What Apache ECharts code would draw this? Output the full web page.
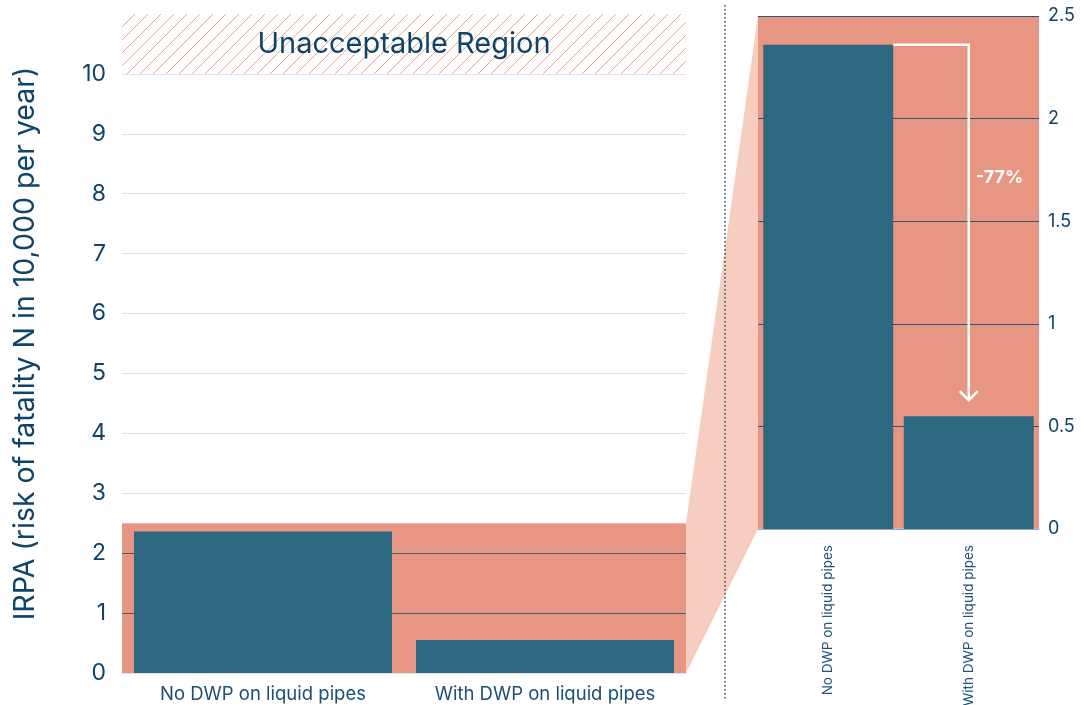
<!DOCTYPE html>
<html>
<head>
<meta charset="utf-8">
<script src="https://cdn.jsdelivr.net/npm/echarts@6/dist/echarts.min.js"></script>
<style>
  html, body { margin: 0; padding: 0; background: #ffffff; }
  #chart { width: 1084px; height: 705px; }
</style>
</head>
<body>
<div id="chart"></div>
<script>
// Individual risk per annum for the two piping cases
const categories = ['No DWP on liquid pipes', 'With DWP on liquid pipes'];
const irpa = [2.36, 0.55];

// Value ranges of the overview axis, the unacceptable band and the zoomed axis
const overviewMax = 11;
const unacceptableFrom = 10;
const zoomMax = 2.5;
const overviewInterval = 1;
const zoomInterval = 0.5;

const NAVY = '#0f4468';
const BAR = '#2c6880';
const SALMON = '#e89684';
const CONNECTOR = '#f6cdbf';
const HATCH = '#f0a28c';
const FONT = 'Inter';

// Split line colours per tick of the overview axis: dark inside the salmon band, light above
const overviewLineColors = [];
for (let v = 0; v <= overviewMax; v += overviewInterval) {
  if (v === 0 || v === overviewMax) overviewLineColors.push('rgba(0,0,0,0)');
  else if (v < zoomMax) overviewLineColors.push('#4a5a6c');
  else overviewLineColors.push('#dfe1ec');
}

const chart = echarts.init(document.getElementById('chart'), null, { renderer: 'canvas' });

chart.setOption({
  animation: false,
  backgroundColor: '#ffffff',
  textStyle: { fontFamily: FONT },
  grid: [
    { left: 122, top: 14, width: 564, bottom: 32, outerBoundsMode: 'none', containLabel: false },
    {
      left: 758, top: 16, width: 281, bottom: 176, outerBoundsMode: 'none', containLabel: false,
      show: true, backgroundColor: SALMON, borderWidth: 0
    }
  ],
  xAxis: [
    {
      type: 'category', gridIndex: 0, data: categories,
      axisLine: { show: true, lineStyle: { color: '#d9dce6', width: 1.5 } },
      axisTick: { show: false },
      axisLabel: { color: '#1d4f72', fontSize: 18.5, margin: 12, interval: 0, fontFamily: FONT }
    },
    {
      type: 'category', gridIndex: 1, data: categories,
      axisLine: { show: true, lineStyle: { color: '#b8c4d2', width: 1.5 } },
      axisTick: { show: false },
      axisLabel: { color: '#1f5678', fontSize: 13.5, margin: 16, rotate: 90, interval: 0, fontFamily: FONT }
    }
  ],
  yAxis: [
    {
      type: 'value', gridIndex: 0, min: 0, max: overviewMax, interval: overviewInterval, z: 1.5,
      name: 'IRPA (risk of fatality N in 10,000 per year)',
      nameLocation: 'middle', nameGap: 82, nameRotate: 90,
      nameTextStyle: { color: NAVY, fontSize: 28.5, fontFamily: FONT },
      axisLine: { show: false }, axisTick: { show: false },
      axisLabel: {
        color: NAVY, fontSize: 23, margin: 16, fontFamily: FONT,
        formatter: v => (v > unacceptableFrom ? '' : String(v))
      },
      splitLine: { show: true, lineStyle: { color: overviewLineColors, width: 1.2 } }
    },
    {
      type: 'value', gridIndex: 1, position: 'right', min: 0, max: zoomMax, interval: zoomInterval,
      axisLine: { show: false }, axisTick: { show: false },
      axisLabel: { color: NAVY, fontSize: 18, margin: 9, fontFamily: FONT },
      splitLine: { show: true, lineStyle: { color: '#2f5573', width: 1.2 } }
    }
  ],
  series: [
    {
      type: 'bar', xAxisIndex: 0, yAxisIndex: 0, data: irpa,
      barCategoryGap: '8.5%',
      itemStyle: { color: BAR },
      markArea: {
        silent: true,
        data: [
          [
            {
              yAxis: unacceptableFrom,
              name: 'Unacceptable Region',
              itemStyle: { color: 'rgba(0,0,0,0)' },
              label: { show: true, position: 'inside', color: NAVY, fontSize: 29, fontFamily: FONT }
            },
            { yAxis: overviewMax }
          ],
          [
            { yAxis: 0, itemStyle: { color: SALMON, opacity: 1 }, label: { show: false } },
            { yAxis: zoomMax }
          ]
        ]
      }
    },
    {
      type: 'bar', xAxisIndex: 1, yAxisIndex: 1, data: irpa,
      barCategoryGap: '7.5%',
      itemStyle: { color: BAR }
    }
  ]
});

// Diagonal hatch strokes inside a rectangle, clipped to its edges
function hatchLines(x0, y0, x1, y1, step) {
  const h = y1 - y0;
  const out = [];
  for (let s = x0 - h; s < x1; s += step) {
    // line from (s, y1) to (s + h, y0)
    let ax = s, ay = y1, bx = s + h, by = y0;
    if (ax < x0) { ay = y1 - (x0 - ax); ax = x0; }
    if (bx > x1) { by = y0 + (bx - x1); bx = x1; }
    if (bx <= ax) continue;
    out.push({
      type: 'line', z: -5, silent: true,
      shape: { x1: ax, y1: ay, x2: bx, y2: by },
      style: { stroke: HATCH, lineWidth: 1 }
    });
  }
  return out;
}

// Hatch band, connector, divider and change arrow placed from the axes' own coordinates
function drawOverlay() {
  const model = chart.getModel();
  const r0 = model.getComponent('grid', 0).coordinateSystem.getRect();
  const r1 = model.getComponent('grid', 1).coordinateSystem.getRect();
  const yL = v => chart.convertToPixel({ yAxisIndex: 0 }, v);
  const yR = v => chart.convertToPixel({ yAxisIndex: 1 }, v);
  const xR = i => chart.convertToPixel({ xAxisIndex: 1 }, i);

  const leftEdge = r0.x + r0.width;
  const rightEdge = r1.x;
  const connector = [
    [leftEdge, yL(zoomMax)],
    [rightEdge, yR(zoomMax)],
    [rightEdge, yR(0)],
    [leftEdge, yL(0)]
  ];

  const hatch = hatchLines(r0.x, yL(overviewMax), r0.x + r0.width, yL(unacceptableFrom), 13);

  const bar0 = model.getSeriesByIndex(1).getData().getItemLayout(0);
  const startX = bar0.x + bar0.width;
  const startY = yR(irpa[0]);
  const arrowX = xR(1);
  const endY = yR(irpa[1]) - 16;
  const change = Math.round((irpa[1] - irpa[0]) / irpa[0] * 100);
  const labelY = startY + (endY - startY) * 0.375;

  chart.setOption({
    graphic: hatch.concat([
      { type: 'polygon', z: -10, silent: true, shape: { points: connector }, style: { fill: CONNECTOR } },
      {
        type: 'line', z: 10, silent: true,
        shape: { x1: 725, y1: 5, x2: 725, y2: 700 },
        style: { stroke: '#1f4c6e', lineWidth: 1.5, lineDash: [1.5, 2.5] }
      },
      {
        type: 'polyline', z: 10, silent: true,
        shape: { points: [[startX, startY], [arrowX, startY], [arrowX, endY]] },
        style: { stroke: '#ffffff', lineWidth: 2.5, fill: null }
      },
      {
        type: 'polyline', z: 10, silent: true,
        shape: { points: [[arrowX - 9, endY - 9], [arrowX, endY], [arrowX + 9, endY - 9]] },
        style: { stroke: '#ffffff', lineWidth: 2.5, fill: null }
      },
      {
        type: 'text', z: 10, silent: true,
        x: arrowX + 7, y: labelY,
        style: {
          text: (change > 0 ? '+' : '') + change + '%',
          fill: '#ffffff', font: 'bold 18px ' + FONT,
          textAlign: 'left', textVerticalAlign: 'middle'
        }
      }
    ])
  });
}
drawOverlay();
</script>
</body>
</html>
